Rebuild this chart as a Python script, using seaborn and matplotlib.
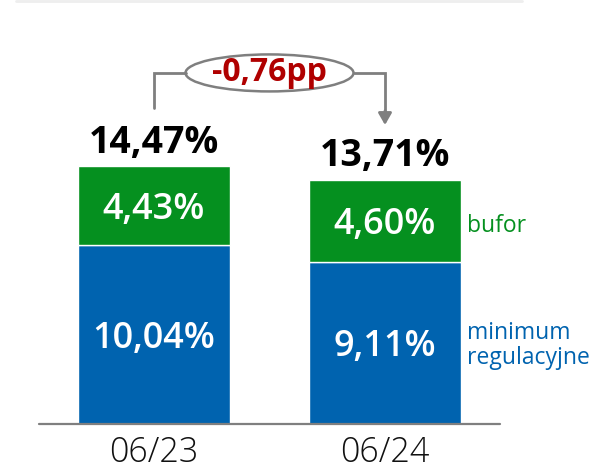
import matplotlib
matplotlib.use("Agg")
import matplotlib.pyplot as plt
from matplotlib.patches import Ellipse
from matplotlib.lines import Line2D
import numpy as np
import seaborn as sns

# Capital ratio split: regulatory minimum + buffer (in %)
periods = ["06/23", "06/24"]
minimum = [10.04, 9.11]
buffer = [4.43, 4.60]
totals = [14.47, 13.71]
change_label = "-0,76pp"
series_names = ["bufor", "minimum\nregulacyjne"]

BLUE = "#0063AF"
GREEN = "#05901F"
GREY = "#7F7F7F"
RED = "#B00000"

sns.set_style("white")
plt.rcParams["font.family"] = ["Open Sans", "DejaVu Sans"]

fig = plt.figure(figsize=(5.97, 4.72), dpi=100)
ax = fig.add_axes([0, 48 / 472, 1, 424 / 472])

bar_w = 0.658
sns.barplot(x=periods, y=minimum, color=BLUE, width=bar_w, ax=ax,
            edgecolor="white", linewidth=1, saturation=1, errorbar=None)
sns.barplot(x=periods, y=buffer, bottom=np.array(minimum), color=GREEN,
            width=bar_w, ax=ax, edgecolor="white", linewidth=1,
            saturation=1, errorbar=None)

ax.set_xlim(-154 / 231, -154 / 231 + 597 / 231)
ax.set_ylim(0, 424 / 17.83)
ax.set_yticks([])
ax.set_xlabel("")
ax.set_ylabel("")
for s in ax.spines.values():
    s.set_visible(False)
ax.axhline(0, xmin=39 / 597, xmax=500 / 597, color=GREY, lw=1.6, clip_on=False)
ax.tick_params(axis="x", length=0, pad=8)
ax.set_xticks(range(len(periods)))
ax.set_xticklabels(periods, fontsize=24.5, fontweight="light", color="#111111")

# Segment labels
for i in range(len(periods)):
    ax.text(i, minimum[i] / 2, f"{minimum[i]:.2f}%".replace(".", ","),
            ha="center", va="center_baseline", color="white", fontsize=26,
            fontweight="semibold")
    ax.text(i, minimum[i] + buffer[i] / 2, f"{buffer[i]:.2f}%".replace(".", ","),
            ha="center", va="center_baseline", color="white", fontsize=26,
            fontweight="semibold")
    ax.annotate(f"{totals[i]:.2f}%".replace(".", ","), (i, totals[i]),
                xytext=(0, 9.5), textcoords="offset points",
                ha="center", va="baseline", fontsize=27,
                fontweight="bold", color="black")

# Series names beside the second bar
x_lab = 1 + (467 - 385) / 231
ax.text(x_lab, minimum[1] + buffer[1] / 2 - 0.3, series_names[0], color=GREEN,
        fontsize=16.5, ha="left", va="center")
ax.text(x_lab, minimum[1] / 2 - 0.15, series_names[1], color=BLUE,
        fontsize=16.5, ha="left", va="center", linespacing=1.05)

# Change connector with ellipse
y_top = totals[0] + 5.22
y_left = totals[0] + 3.25
y_tip = totals[1] + 3.06
e_w, e_h = 168 / 231, 37 / 17.83
ax.plot([0, 0, 0.5 - e_w / 2], [y_left, y_top, y_top], color=GREY, lw=2,
        solid_joinstyle="miter")
ax.plot([0.5 + e_w / 2, 1, 1], [y_top, y_top, y_tip + 0.6], color=GREY, lw=2,
        solid_joinstyle="miter")
ax.annotate("", xy=(1, y_tip), xytext=(1, y_tip + 0.8),
            arrowprops=dict(arrowstyle="-|>,head_length=0.7,head_width=0.4",
                            color=GREY, lw=2, shrinkA=0, shrinkB=0))
ax.add_patch(Ellipse((0.5, y_top), e_w, e_h, facecolor="white",
                     edgecolor=GREY, lw=1.8))
ax.text(0.5, y_top + 0.05, change_label, ha="center", va="center", color=RED,
        fontsize=23, fontweight="bold")

# Faint rule at the top edge
fig.add_artist(Line2D([16 / 597, 522 / 597], [0.998, 0.998],
                      transform=fig.transFigure, color="#EEEEEE", lw=2))

fig.savefig("out.png", dpi=100)
